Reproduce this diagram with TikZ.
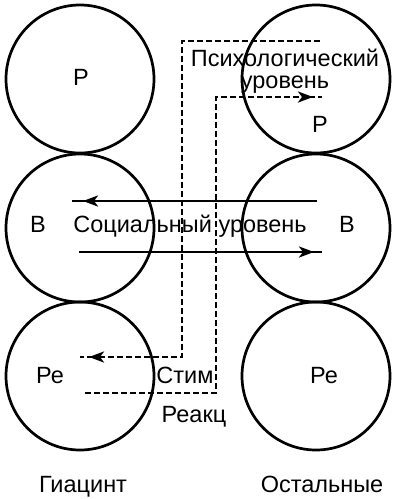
\documentclass[tikz,border=0pt]{standalone}
\usepackage{fontspec}
\setmainfont{Liberation Sans}
\usetikzlibrary{arrows.meta}

\begin{document}
\begin{tikzpicture}[x=1pt, y=-1pt, line width=2.7pt,
    role/.style={circle, draw, minimum size=148pt, inner sep=0pt},
    lbl/.style={font=\fontsize{23.5}{21.5}\selectfont, inner sep=0pt, anchor=base},
    head/.style={-{Stealth[length=15pt,width=11pt,inset=4pt]}},
    imp/.style={dash pattern=on 6pt off 3pt}]
    \useasboundingbox (0,0) rectangle (400,499);
    \def\lx{80}
    \def\rx{316}
    % the two persons, three ego states each
    \node[role] (hP)  at (\lx,79)  {};
    \node[role] (hV)  at (\lx,228) {};
    \node[role] (hRe) at (\lx,376) {};
    \node[role] (oP)  at (\rx,79)  {};
    \node[role] (oV)  at (\rx,228) {};
    \node[role] (oRe) at (\rx,376) {};
    \node[lbl] (hPt)  at (81,85)   {Р};
    \node[lbl] (hVt)  at (38,232)  {В};
    \node[lbl] (hRet) at (50,383)  {Ре};
    \node[lbl] (oPt)  at (320,132) {Р};
    \node[lbl] (oVt)  at (347,232) {В};
    \node[lbl] (oRet) at (324,383) {Ре};
    \node[lbl] (soc)  at (190,232) {Социальный уровень};
    \node[lbl, align=center] (psy) at (285,88) {Психологический\\уровень};
    \node[lbl] (stim) at (185,383) {Стим};
    \node[lbl] (reak) at (194,422) {Реакц};
    \node[lbl] (nH)   at (83,492)  {Гиацинт};
    \node[lbl] (nO)   at (322,492) {Остальные};
    % social level
    \coordinate (sa1) at (317,201);
    \coordinate (sa2) at (72,201);
    \coordinate (sa3) at (83,201);
    \coordinate (sa4) at (88,201);
    \coordinate (sb1) at (79,252);
    \coordinate (sb2) at (322,252);
    \coordinate (sb3) at (314,252);
    \coordinate (sb4) at (309,252);
    \draw[head] (sa1) -- (sa3);
    \draw (sa4) -- (sa2);
    \draw[head] (sb1) -- (sb3);
    \draw (sb4) -- (sb2);
    % psychological level
    \coordinate (st1) at (320,41);
    \coordinate (st2) at (80,357);
    \coordinate (st3) at (89,357);
    \coordinate (st4) at (93,357);
    \coordinate (re1) at (85,393);
    \coordinate (re2) at (322,97);
    \coordinate (re3) at (313,97);
    \coordinate (re4) at (309,97);
    \draw[imp, head] (st1) -- (182,41) -- (182,357) -- (st3);
    \draw[imp] (st4) -- (st2);
    \draw[imp, head] (re1) -- (216,393) -- (216,97) -- (re3);
    \draw[imp] (re4) -- (re2);
\end{tikzpicture}
\end{document}
